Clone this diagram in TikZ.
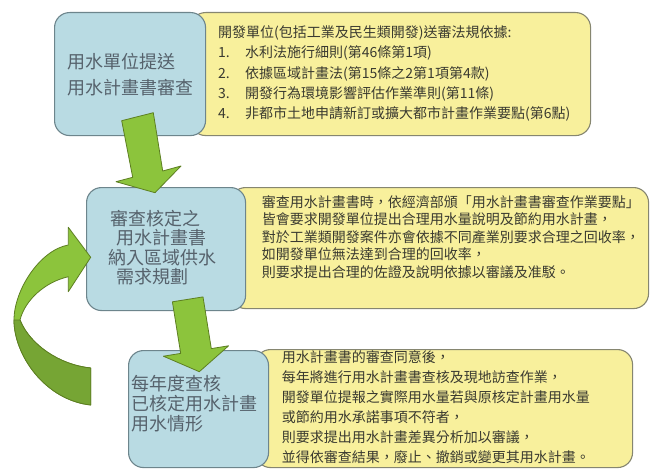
\documentclass[tikz,border=0pt]{standalone}
\usepackage{fontspec}
\setmainfont{Noto Sans CJK TC}
\definecolor{bluefill}{HTML}{B9DBE3}
\definecolor{blueline}{HTML}{6D858C}
\definecolor{bluetext}{HTML}{56626C}
\definecolor{yelfill}{HTML}{F8F09C}
\definecolor{yelline}{HTML}{868670}
\definecolor{yeltext}{HTML}{3A3A30}
\definecolor{grn}{HTML}{8CC43C}
\definecolor{grndark}{HTML}{76A534}
\definecolor{grnline}{HTML}{5D7F22}
\begin{document}
\begin{tikzpicture}[x=1pt,y=-1pt,
  bluebox/.style={draw=blueline,line width=1.1pt,fill=bluefill,rounded corners=15pt,anchor=north west,inner sep=0pt},
  yelbox/.style={draw=yelline,line width=1.1pt,fill=yelfill,rounded corners=15pt,anchor=north west,inner sep=0pt},
  bigtext/.style={anchor=west,align=left,inner sep=0pt,text=bluetext,font=\fontsize{18}{#1}\selectfont},
  smalltext/.style={anchor=west,align=left,inner sep=0pt,text=yeltext,font=\fontsize{14}{#1}\selectfont},
  blockarrow/.style={draw=grnline,line width=0.8pt,fill=grn,line join=round}]
\clip (0,0) rectangle (652,468);
\fill[white] (0,0) rectangle (652,468);
% yellow boxes
\node[yelbox,minimum width=400pt,minimum height=123pt] (y1) at (190,12) {};
\node[yelbox,minimum width=418pt,minimum height=121pt] (y2) at (230,187) {};
\node[yelbox,minimum width=377pt,minimum height=118pt] (y3) at (255,349) {};
% blue boxes
\node[bluebox,minimum width=151pt,minimum height=123pt] (b1) at (54,12) {};
\node[bluebox,minimum width=159pt,minimum height=123pt] (b2) at (86,187) {};
\node[bluebox,minimum width=140pt,minimum height=117pt] (b3) at (128,350) {};
% blue texts
\node[bigtext=26] (t1) at (67.5,75) {用水單位提送\\用水計畫書審查};
\node[bigtext=19.5] (t2) at (108,247.5) {\hspace{2pt}審查核定之\\\hspace{8.5pt}用水計畫書\\納入區域供水\\\hspace{8.5pt}需求規劃};
\node[bigtext=20] (t3) at (131,403.3) {每年度查核\\已核定用水計畫\\用水情形};
% yellow texts
\node[smalltext=20.2] (s1) at (218,73.5) {開發單位(包括工業及民生類開發)送審法規依據:\\
\makebox[27pt][l]{1.}水利法施行細則(第46條第1項)\\
\makebox[27pt][l]{2.}依據區域計畫法(第15條之2第1項第4款)\\
\makebox[27pt][l]{3.}開發行為環境影響評估作業準則(第11條)\\
\makebox[27pt][l]{4.}非都市土地申請新訂或擴大都市計畫作業要點(第6點)};
\node[smalltext=17.5] (s2) at (261.7,236.7) {審查用水計畫書時，依經濟部頒「用水計畫書審查作業要點」\\
皆會要求開發單位提出合理用水量說明及節約用水計畫，\\
對於工業類開發案件亦會依據不同產業別要求合理之回收率，\\
如開發單位無法達到合理的回收率，\\
則要求提出合理的佐證及說明依據以審議及准駁。};
\node[smalltext=20] (s3) at (281.7,407.5) {用水計畫書的審查同意後，\\
每年將進行用水計畫書查核及現地訪查作業，\\
開發單位提報之實際用水量若與原核定計畫用水量\\
或節約用水承諾事項不符者，\\
則要求提出用水計畫差異分析加以審議，\\
並得依審查結果，廢止、撤銷或變更其用水計畫。};
% block arrows
\draw[blockarrow] (121.7,120.7) -- (153.3,112.7) -- (162.7,171) -- (181,166) -- (155,192.7) -- (116,181.7) -- (132.7,177.3) -- cycle;
\draw[blockarrow] (172.4,301.8) -- (203,296.9) -- (211.3,348.6) -- (228.6,345.8) -- (199.3,371.7) -- (163.4,356.2) -- (180.7,353.4) -- cycle;
% curved return arrow
\draw[blockarrow] (90.7,405) .. controls (45,400) and (14,355) .. (14,320)
  .. controls (14,290) and (40,250) .. (68.3,245) -- (68.3,227.3) -- (90.7,257.3) -- (68.3,291.7) -- (68.3,276.7)
  .. controls (45,282) and (25,300) .. (20,320)
  .. controls (30,345) and (60,365) .. (90.7,368) -- cycle;
\draw[draw=grnline,line width=0.8pt,fill=grndark,line join=round] (14,320) .. controls (14,355) and (45,400) .. (90.7,405) -- (90.7,368)
  .. controls (60,365) and (30,345) .. (20,320) -- cycle;
\end{tikzpicture}
\end{document}
